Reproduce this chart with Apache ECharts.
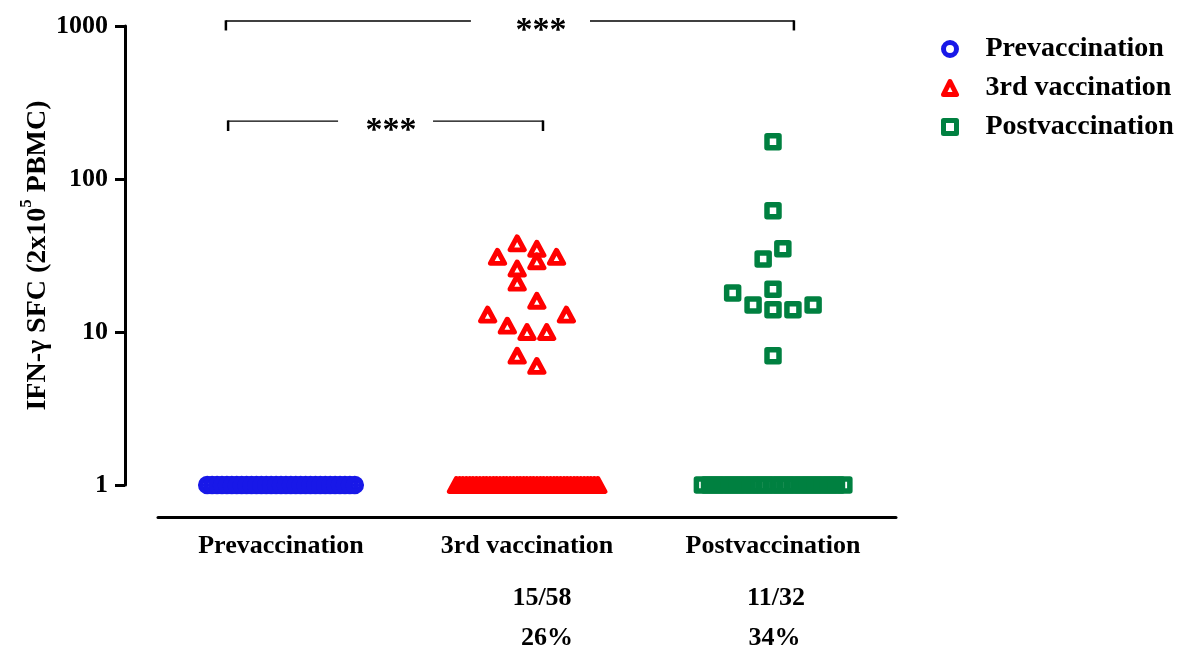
<!DOCTYPE html>
<html><head><meta charset="utf-8">
<script src="https://cdn.jsdelivr.net/npm/echarts@6/dist/echarts.min.js"></script>
<style>html,body{margin:0;padding:0;background:#fff}#c{width:1190px;height:647px}</style>
</head><body><div id="c"></div>
<script>
// ---------- data ----------
const categories = ['Prevaccination', '3rd vaccination', 'Postvaccination'];
const yTickLabels = ['1', '10', '100', '1000'];

const preValues = [1,1,1,1,1,1,1,1,1,1,1,1,1,1,1,1,1,1,1,1,1,1,1,1,1,1,1,1,1,1,1];
const preJitter = [-0.30,-0.28,-0.26,-0.24,-0.22,-0.20,-0.18,-0.16,-0.14,-0.12,-0.10,-0.08,-0.06,-0.04,-0.02,0.00,
                   0.02,0.04,0.06,0.08,0.10,0.12,0.14,0.16,0.18,0.20,0.22,0.24,0.26,0.28,0.30];

const thirdValues = [38,35,31,31,29,26,21,16,13,13,11,10,10,7,6,
  1,1,1,1,1,1,1,1,1,1,1,1,1,1,1,1,1,1,1,1,1,1,1,1,1,1,1,1,1,1,1,1,1,1,1,1,1,1,1,1,1,1,1];
const thirdJitter = [-0.04,0.04,-0.12,0.12,0.04,-0.04,-0.04,0.04,-0.16,0.16,-0.08,0.00,0.08,-0.04,0.04,
  -0.287,-0.273,-0.260,-0.246,-0.232,-0.219,-0.205,-0.191,-0.177,-0.164,-0.150,-0.136,-0.123,-0.109,-0.095,
  -0.082,-0.068,-0.054,-0.040,-0.027,-0.013,0.000,0.014,0.027,0.041,0.055,0.068,0.082,0.096,0.110,
  0.123,0.137,0.151,0.164,0.178,0.192,0.205,0.219,0.233,0.247,0.260,0.274,0.288];

const postValues = [175,62,35,30,18,19,15,15,14,14,7,
  1,1,1,1,1,1,1,1,1,1,1,1,1,1,1,1,1,1,1,1,1];
const postJitter = [0.00,0.00,0.04,-0.04,-0.164,0.00,-0.081,0.163,0.00,0.081,0.00,
  -0.287,-0.258,-0.230,-0.201,-0.172,-0.144,-0.115,-0.086,-0.057,-0.029,0.000,
  0.029,0.057,0.086,0.115,0.144,0.172,0.201,0.230,0.258,0.288];

const responders = ['', '15/58', '11/32'];
const responderPct = ['', '26%', '34%'];
const sigLabels = ['***', '***'];

// ---------- layout / style ----------
const FONT = "'Liberation Serif','Times New Roman',serif";
const colors = ['#1818e8', '#ff0000', '#008040'];
const symbols = ['circle', 'triangle', 'rect'];
const symSizes = [13, [14, 13], 12];
const borderWidths = [5.5, 5, 5.5];
// bracket geometry in axis units (x: 0..3 category space, y: log value)
const bracketGeom = [
  {xl: 0.276, xr: 2.585, y: 1078, yt: 935, gl: 1.272, gr: 1.756, tx: 1.557},
  {xl: 0.285, xr: 1.565, y: 239,  yt: 206, gl: 0.732, gr: 1.118, tx: 0.947}
];
const annoDx = [0, 15, 3];
const annoDx2 = [0, 20, 1.5];

const groups = [
  {values: preValues, jitter: preJitter},
  {values: thirdValues, jitter: thirdJitter},
  {values: postValues, jitter: postJitter}
];

const chart = echarts.init(document.getElementById('c'), null, {renderer: 'canvas'});

const series = groups.map((g, gi) => ({
  name: categories[gi],
  type: 'scatter',
  xAxisIndex: 1,
  yAxisIndex: 0,
  symbol: symbols[gi],
  symbolSize: symSizes[gi],
  clip: false,
  itemStyle: {
    color: 'rgba(255,255,255,0)',
    borderColor: colors[gi],
    borderWidth: borderWidths[gi],
    borderJoin: 'round',
    opacity: 1
  },
  emphasis: {disabled: true},
  data: g.values.map((v, i) => [gi + 0.5 + g.jitter[i], v])
}));

const option = {
  animation: false,
  backgroundColor: '#fff',
  grid: {left: 158, right: 294, top: 26, bottom: 162, containLabel: false},
  legend: {
    orient: 'vertical',
    left: 936, top: 29,
    itemWidth: 13, itemHeight: 13, itemGap: 9,
    textStyle: {fontFamily: FONT, fontWeight: 'bold', fontSize: 28, color: '#000', padding: [0, 0, 0, 24], lineHeight: 30},
    data: categories.map((c, i) => ({
      name: c,
      icon: symbols[i],
      itemStyle: {color: 'rgba(255,255,255,0)', borderColor: colors[i], borderWidth: 5, borderJoin: 'round'}
    }))
  },
  xAxis: [{
    type: 'category',
    data: categories,
    offset: 32,
    axisLine: {show: true, onZero: false, lineStyle: {color: '#000', width: 3}},
    axisTick: {show: false},
    axisLabel: {fontFamily: FONT, fontWeight: 'bold', fontSize: 26, color: '#000', margin: 16},
    splitLine: {show: false}
  }, {
    type: 'value', min: 0, max: 3, show: false, splitLine: {show: false}
  }],
  yAxis: {
    type: 'log', logBase: 10, min: 1, max: 1000,
    offset: 33,
    name: '{t|IFN-γ SFC (2x10}{s|5}{t| PBMC)}',
    nameLocation: 'middle', nameRotate: 90, nameGap: 73, nameMoveOverlap: false,
    nameTextStyle: {
      rich: {
        t: {fontFamily: FONT, fontWeight: 'bold', fontSize: 28, color: '#000', lineHeight: 34, verticalAlign: 'bottom'},
        s: {fontFamily: FONT, fontWeight: 'bold', fontSize: 17, color: '#000', lineHeight: 34, verticalAlign: 'top', padding: [0, 0, 14, 0]}
      }
    },
    axisLine: {show: true, onZero: false, lineStyle: {color: '#000', width: 3}},
    axisTick: {show: true, length: 10, lineStyle: {color: '#000', width: 3}},
    minorTick: {show: false},
    splitLine: {show: false},
    axisLabel: {
      fontFamily: FONT, fontWeight: 'bold', fontSize: 26, color: '#000', margin: 17,
      formatter: v => yTickLabels[Math.round(Math.log10(v))]
    }
  },
  series: series
};
chart.setOption(option);

function px(x, y) { return chart.convertToPixel({xAxisIndex: 1, yAxisIndex: 0}, [x, y]); }

const graphics = [];
bracketGeom.forEach((b, i) => {
  const L = px(b.xl, b.y), Lt = px(b.xl, b.yt), R = px(b.xr, b.y), Rt = px(b.xr, b.yt);
  const GL = px(b.gl, b.y), GR = px(b.gr, b.y), T = px(b.tx, b.y);
  graphics.push({type: 'line', shape: {x1: L[0], y1: L[1], x2: GL[0], y2: GL[1]}, style: {stroke: '#000', lineWidth: 1.4}});
  graphics.push({type: 'line', shape: {x1: GR[0], y1: GR[1], x2: R[0], y2: R[1]}, style: {stroke: '#000', lineWidth: 1.4}});
  graphics.push({type: 'line', shape: {x1: L[0], y1: L[1] - 0.7, x2: Lt[0], y2: Lt[1]}, style: {stroke: '#000', lineWidth: 2.5}});
  graphics.push({type: 'line', shape: {x1: R[0], y1: R[1] - 0.7, x2: Rt[0], y2: Rt[1]}, style: {stroke: '#000', lineWidth: 2.5}});
  graphics.push({type: 'text', x: T[0], y: T[1] + 10, style: {text: sigLabels[i], fontFamily: FONT, fontWeight: 'bold', fontSize: 34, fill: '#000', textAlign: 'center', textVerticalAlign: 'middle'}});
});
responders.forEach((r, i) => {
  if (!r) return;
  const p = px(i + 0.5, 1);
  graphics.push({type: 'text', x: p[0] + annoDx[i], y: p[1] + 113, style: {text: r, fontFamily: FONT, fontWeight: 'bold', fontSize: 26, fill: '#000', textAlign: 'center', textVerticalAlign: 'middle'}});
  graphics.push({type: 'text', x: p[0] + annoDx2[i], y: p[1] + 153, style: {text: responderPct[i], fontFamily: FONT, fontWeight: 'bold', fontSize: 26, fill: '#000', textAlign: 'center', textVerticalAlign: 'middle'}});
});
chart.setOption({graphic: graphics});
</script>
</body></html>
